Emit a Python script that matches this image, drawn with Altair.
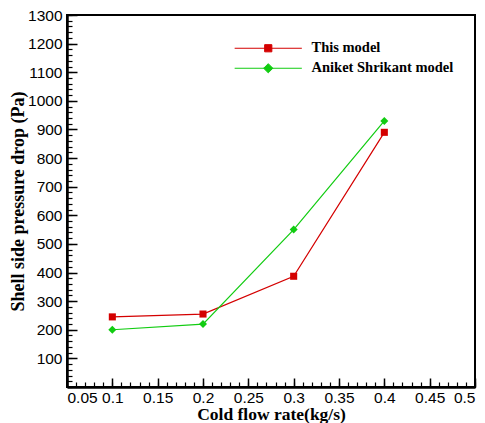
import altair as alt
import pandas as pd

# ---- data ----
flow_rate = [0.1, 0.2, 0.3, 0.4]
this_model = [245, 255, 387, 890]
aniket_model = [200, 220, 550, 930]
series_names = ["This model", "Aniket Shrikant model"]
series_colors = ["#d40000", "#11cc11"]
x_ticks = [0.05, 0.1, 0.15, 0.2, 0.25, 0.3, 0.35, 0.4, 0.45, 0.5]
x_minor = [round(0.05 + 0.01 * i, 2) for i in range(46)]
y_ticks = [100, 200, 300, 400, 500, 600, 700, 800, 900, 1000, 1100, 1200, 1300]
y_minor = list(range(0, 1301, 20))

rows = []
for xv, a, b in zip(flow_rate, this_model, aniket_model):
    rows.append({"x": xv, "y": a, "series": series_names[0]})
    rows.append({"x": xv, "y": b, "series": series_names[1]})
df = pd.DataFrame(rows)

W, H = 408, 372
serif = "Liberation Serif"
sans = "Liberation Sans"

xscale = alt.Scale(domain=[0.05, 0.5], nice=False, zero=False)
yscale = alt.Scale(domain=[0, 1300], nice=False, zero=True)
color = alt.Scale(domain=series_names, range=series_colors)

sq = "M-8.4,0H8.4M-0.9,-0.9H0.9V0.9H-0.9Z"
di = "M-8.4,0H8.4M0,-1.15L1.15,0L0,1.15L-1.15,0Z"

legend = alt.Legend(
    title=None, orient="none", legendX=194, legendY=26, padding=0,
    symbolSize=64, labelOffset=36, rowPadding=5, symbolStrokeWidth=1, symbolOpacity=1,
    labelFont=serif, labelFontSize=14.5, labelFontWeight="bold", labelColor="black",
)

main_x = alt.Axis(values=x_ticks, format="~g", ticks=False, domainColor="black", domainWidth=2.5,
                  labelFont=sans, labelFontSize=15.5, labelColor="black", labelPadding=3,
                  title="Cold flow rate(kg/s)", titleFont=serif, titleFontSize=17.5,
                  titleFontWeight="bold", titleColor="black", titleY=18.5, titleBaseline="top", grid=False)
main_y = alt.Axis(values=y_ticks, format="d", ticks=False, domainColor="black", domainWidth=2.5,
                  labelFont=sans, labelFontSize=15.5, labelColor="black", labelPadding=5,
                  title="Shell side pressure drop (Pa)", titleFont=serif, titleFontSize=18,
                  titleFontWeight="bold", titleColor="black", titlePadding=0, grid=False)

legend_layer = alt.Chart(df).mark_point(filled=True, opacity=0, strokeWidth=1).encode(
    x=alt.X("x:Q", scale=xscale, axis=None),
    y=alt.Y("y:Q", scale=yscale, axis=None),
    color=alt.Color("series:N", scale=color, legend=legend, sort=series_names),
    stroke=alt.Stroke("series:N", scale=alt.Scale(domain=series_names, range=series_colors), legend=legend,
                      sort=series_names),
    shape=alt.Shape("series:N", scale=alt.Scale(domain=series_names, range=[sq, di]), legend=legend,
                    sort=series_names),
)

lines = alt.Chart(df).mark_line(strokeWidth=1.2).encode(
    x=alt.X("x:Q", scale=xscale, axis=main_x),
    y=alt.Y("y:Q", scale=yscale, axis=main_y),
    color=alt.Color("series:N", scale=color, legend=None),
    detail="series:N",
)

major_x = alt.Axis(orient="top", offset=-H, values=x_ticks, labels=False, domain=False, tickSize=9,
                   tickWidth=1.5, tickColor="black", title=None, grid=False)
major_y = alt.Axis(orient="right", offset=-W, values=y_ticks, labels=False, domain=False, tickSize=10,
                   tickWidth=1.5, tickColor="black", title=None, grid=False)

pts_a = alt.Chart(df).transform_filter(alt.datum.series == series_names[0]).mark_point(
    filled=True, opacity=1, shape="square", size=50).encode(
    x=alt.X("x:Q", scale=xscale, axis=major_x),
    y=alt.Y("y:Q", scale=yscale, axis=major_y),
    color=alt.Color("series:N", scale=color, legend=None),
)
pts_b = alt.Chart(df).transform_filter(alt.datum.series == series_names[1]).mark_point(
    filled=True, opacity=1, shape="diamond", size=64).encode(
    x=alt.X("x:Q", scale=xscale, axis=None),
    y=alt.Y("y:Q", scale=yscale, axis=None),
    color=alt.Color("series:N", scale=color, legend=None),
)

minor = alt.Chart(df).mark_point(opacity=0).encode(
    x=alt.X("x:Q", scale=xscale, axis=alt.Axis(orient="top", offset=-H, values=x_minor, labels=False,
                                                 domain=False, tickSize=5, tickWidth=1.2, tickColor="black",
                                                 title=None, grid=False)),
    y=alt.Y("y:Q", scale=yscale, axis=alt.Axis(orient="right", offset=-W, values=y_minor, labels=False,
                                                 domain=False, tickSize=5, tickWidth=1.2, tickColor="black",
                                                 title=None, grid=False)),
)

chart = alt.layer(legend_layer, lines, pts_a, pts_b, minor).resolve_axis(
    x="independent", y="independent").properties(
    width=W, height=H,
    autosize=alt.AutoSizeParams(type="none"),
    padding={"left": 59, "top": 7, "right": 2, "bottom": 36},
).configure_view(stroke="black", strokeWidth=2)

chart.save("out.html", embed_options={"renderer": "svg", "actions": False})
